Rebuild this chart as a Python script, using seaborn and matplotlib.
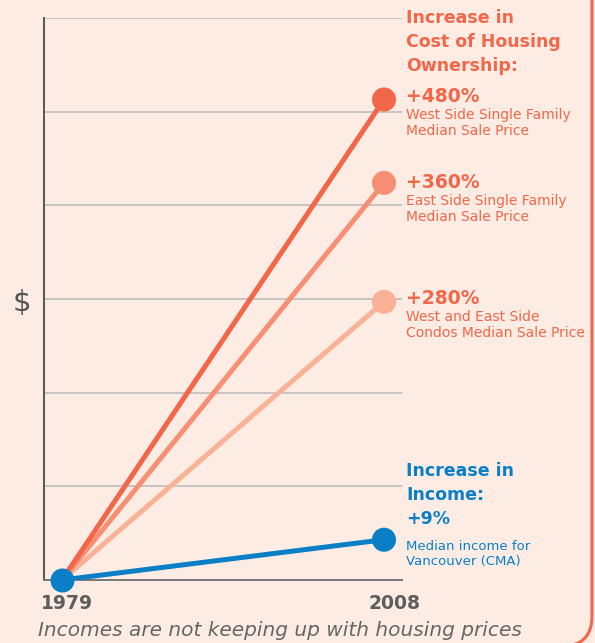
import matplotlib
matplotlib.use("Agg")
import matplotlib.pyplot as plt
import matplotlib.transforms as mtrans
import seaborn as sns
import pandas as pd
from matplotlib.patches import FancyBboxPatch

# ---- data ----
years = ["1979", "2008"]
series_names = ["Condos", "East Side SF", "West Side SF", "Income"]
# relative index positions (gridline units)
start_values = [0, 0, 0, 0]
end_values = [2.97, 4.24, 5.13, 0.43]
pct_labels = ["+280%", "+360%", "+480%", "+9%"]
sub_labels = ["West and East Side\nCondos Median Sale Price",
              "East Side Single Family\nMedian Sale Price",
              "West Side Single Family\nMedian Sale Price",
              "Median income for\nVancouver (CMA)"]
colors = ["#f9b296", "#f68f74", "#f26749", "#0a7fc6"]

W, H = 595, 643
BG = "#fdece4"
ORANGE = "#f26749"
BLUE = "#0a7fc6"

sns.set_theme(style="white")
plt.rcParams["font.family"] = ["DejaVu Sans"]

fig = plt.figure(figsize=(W / 100, H / 100), dpi=100, facecolor=BG)

def fx(px):
    return px / W

def fy(py):
    return 1 - py / H

# rounded frame
frame = FancyBboxPatch((fx(-30), fy(646)), fx(592) - fx(-30), fy(-60) - fy(646),
                       boxstyle="round,pad=0,rounding_size=0.05",
                       transform=fig.transFigure, facecolor="none",
                       edgecolor=ORANGE, linewidth=2.2, zorder=0,
                       mutation_aspect=W / H)
fig.patches.append(frame)

ax = fig.add_axes([fx(44), fy(580), fx(402) - fx(44), fy(18) - fy(580)])
ax.set_facecolor(BG)

rows = []
for name, s, e in zip(series_names, start_values, end_values):
    rows.append({"series": name, "x": 0, "value": s})
    rows.append({"series": name, "x": 1, "value": e})
df = pd.DataFrame(rows)
pal = dict(zip(series_names, colors))

sns.lineplot(data=df, x="x", y="value", hue="series", palette=pal,
             linewidth=3.6, ax=ax, legend=False, zorder=3)
end_df = df[df["x"] == 1]
sns.scatterplot(data=end_df, x="x", y="value", hue="series", palette=pal,
                s=300, linewidth=0, ax=ax, legend=False, zorder=4, clip_on=False)
start_df = df[(df["x"] == 0) & (df["series"] == "Income")]
sns.scatterplot(data=start_df, x="x", y="value", color=BLUE,
                s=300, linewidth=0, ax=ax, legend=False, zorder=5, clip_on=False)
for c in ax.collections:
    c.set_clip_on(False)

ax.set_xlim(-18 / 322, 1 + 18 / 322)
ax.set_ylim(0, 6)
ax.set_yticks(range(0, 7))
ax.set_yticklabels([])
ax.tick_params(axis="y", length=0)
ax.grid(axis="y", color="#bdbdbd", linewidth=1.2)
ax.set_axisbelow(True)
ax.set_xticks([0, 1])
ax.set_xticklabels(years, fontsize=13.5, fontweight="bold", color="#5d5d5d")
ax.tick_params(axis="x", length=0, pad=10)
for lbl, dx in zip(ax.get_xticklabels(), [5, 10]):
    lbl.set_transform(lbl.get_transform() +
                      mtrans.ScaledTranslation(dx / 100, 0, fig.dpi_scale_trans))
ax.set_xlabel("")
ax.set_ylabel("$", fontsize=21, color="#555555", rotation=0,
              va="center", ha="center")
ax.yaxis.set_label_coords(-22 / 358, (580 - 303) / 562)
for side in ["top", "right"]:
    ax.spines[side].set_visible(False)
ax.spines["left"].set_color("#555555")
ax.spines["left"].set_linewidth(1.4)
ax.spines["bottom"].set_color("#777777")
ax.spines["bottom"].set_linewidth(1.4)

TX = fx(406)
fig.text(TX, fy(42), "Increase in\nCost of Housing\nOwnership:", color=ORANGE,
         fontsize=12.5, fontweight="bold", va="center", ha="left", linespacing=1.45)

pct_y = [298, 183, 97, 519]
sub_y = [325, 209, 123, 554]
for i in range(4):
    col = ORANGE if i < 3 else BLUE
    if i < 3:
        fig.text(TX, fy(pct_y[i]), pct_labels[i], color=col, fontsize=13.5,
                 fontweight="bold", va="center", ha="left")
    fig.text(TX, fy(sub_y[i]), sub_labels[i], color=col, fontsize=10 if i < 3 else 9.5,
             va="center", ha="left", linespacing=1.2)

fig.text(TX, fy(495), "Increase in\nIncome:\n+9%", color=BLUE,
         fontsize=12.5, fontweight="bold", va="center", ha="left", linespacing=1.45)

fig.text(fx(38), fy(631), "Incomes are not keeping up with housing prices",
         color="#666666", fontsize=14.5, style="italic", va="center", ha="left")

fig.savefig("out.png", dpi=100, facecolor=BG)
